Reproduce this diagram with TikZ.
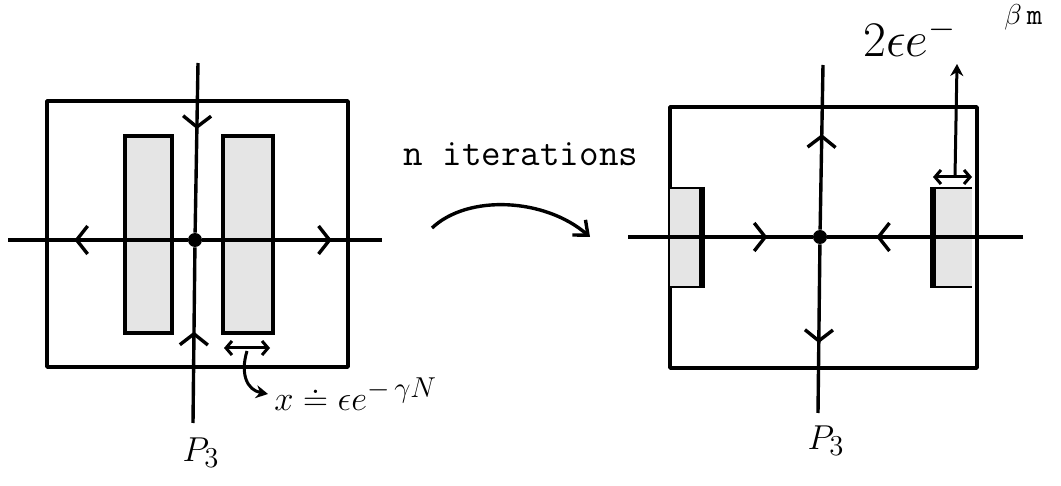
\documentclass[tikz,border=0pt]{standalone}
\usetikzlibrary{arrows.meta,decorations.markings}
\begin{document}
\begin{tikzpicture}[x=0.5pt,y=-0.5pt,
  frame/.style={line width=1.8pt, line join=round},
  axisline/.style={line width=1.7pt},
  chev/.style={postaction={decorate},
    decoration={markings,
      mark=at position #1 with {\arrow{Straight Barb[length=5.5pt,width=14pt,line width=1.7pt]}}}},
  fixpt/.style={circle, fill, inner sep=0pt, minimum size=7pt},
  stipple/.style={fill=black!10},
  gap/.style={line width=1.5pt, {Straight Barb[length=3pt,width=7pt]}-{Straight Barb[length=3pt,width=7pt]}},
  pointer/.style={line width=1.5pt, -{Stealth[length=6pt,width=6.5pt]}},
  hand/.style={font=\fontsize{19}{22}\selectfont, inner sep=0pt},
  typed/.style={font=\fontsize{19}{21}\selectfont\ttfamily, inner sep=0pt}
]
\useasboundingbox (0,0) rectangle (1061,486);

% ---- before: fixed point with two thick strips around the stable axis
\draw[frame] (47,101) rectangle (348,367);
\draw[stipple, line width=2.2pt] (125,136) rectangle (172,333);
\draw[stipple, line width=2.2pt] (223,136) rectangle (273,333);

\node[fixpt] (O1) at (195,240) {};
\coordinate (N1) at (198,63);
\coordinate (S1) at (193,423);
\coordinate (W1) at (8,240);
\coordinate (E1) at (382,240);
\draw[axisline, chev=0.39] (N1) -- (O1);
\draw[axisline, chev=0.52] (S1) -- (O1);
\draw[axisline, chev=0.63] (O1) -- (W1);
\draw[axisline, chev=0.72] (O1) -- (E1);

\coordinate (gl) at (224,348);
\coordinate (gr) at (270,348);
\draw[gap] (gl) -- (gr);
\node[hand, anchor=base west] (xw) at (274,410) {$x \doteq \epsilon e^{-\,\gamma N}$};
\coordinate (xtip) at (268,394);
\draw[pointer] (247,351) .. controls (240,374) and (247,390) .. (xtip);
\node[hand, anchor=north] (P1) at (201,437) {$P_3$};

% ---- the map applied n times
\node[typed, anchor=base west] (iter) at (403,166) {n iterations};
\coordinate (itA) at (432,228);
\coordinate (itB) at (590,237);
\draw[line width=1.7pt, -{Straight Barb[length=6pt,width=10pt,line width=1.7pt]}]
  (itA) .. controls (468,194) and (545,198) .. (itB);

% ---- after: strips pushed to the edges
\draw[frame] (670,107) rectangle (977,368);
\fill[stipple] (670,188) rectangle (702,287);
\draw[line width=1.4pt] (670,188) -- (702,188) (670,287) -- (702,287);
\draw[line width=3.2pt] (702,187) -- (702,288);
\fill[stipple] (933,188) rectangle (972,287);
\draw[line width=1.4pt] (933,188) -- (972,188) (933,287) -- (972,287);
\draw[line width=3.2pt] (933,187) -- (933,288);

\node[fixpt] (O2) at (820,237) {};
\coordinate (N2) at (823,65);
\coordinate (S2) at (818,413);
\coordinate (W2) at (628,237);
\coordinate (E2) at (1023,237);
\draw[axisline, chev=0.58] (O2) -- (N2);
\draw[axisline, chev=0.585] (O2) -- (S2);
\draw[axisline, chev=0.755] (W2) -- (O2);
\draw[axisline, chev=0.75] (E2) -- (O2);

\coordinate (hl) at (933,177);
\coordinate (hr) at (972,177);
\draw[gap] (hl) -- (hr);
\node[font=\fontsize{24}{26}\selectfont, inner sep=0pt, anchor=base west] (wd) at (863,57) {$2\epsilon e^{-}$};
\node[font=\fontsize{15}{17}\selectfont\ttfamily, inner sep=0pt, anchor=base west] (bm) at (1004,25) {$\beta$\,m};
\coordinate (wfoot) at (955,177);
\coordinate (wtop) at (957,64);
\draw[pointer] (wfoot) -- (wtop);
\node[hand, anchor=north] (P2) at (826,425) {$P_3$};
\end{tikzpicture}
\end{document}
